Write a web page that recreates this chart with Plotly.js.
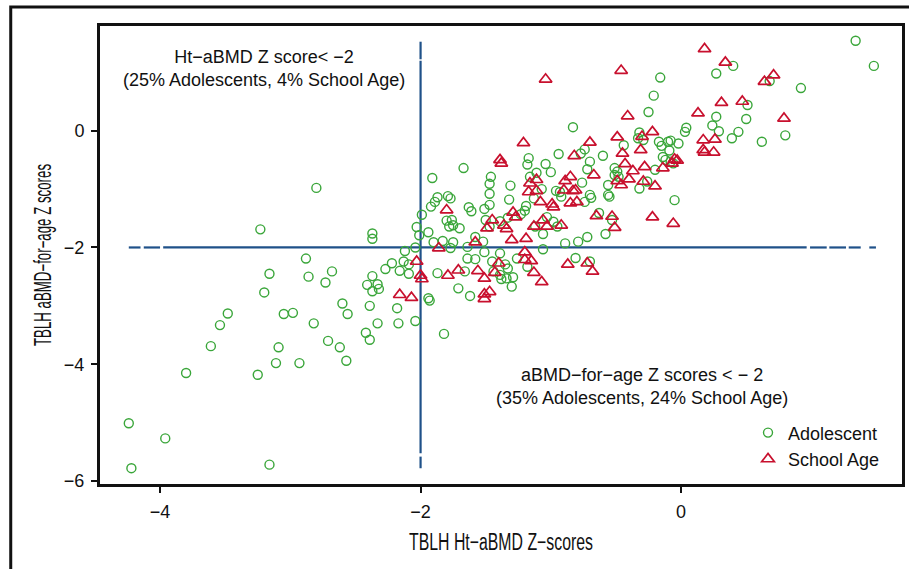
<!DOCTYPE html>
<html>
<head>
<meta charset="utf-8">
<script src="https://cdn.plot.ly/plotly-3.0.1.min.js"></script>
<style>
  html, body { margin: 0; padding: 0; background: #ffffff; }
  #chart { width: 909px; height: 569px; }
</style>
</head>
<body>
<div id="chart"></div>
<script>
// ---- Data ----
const adolescentX = [
  -4.24,-3.96,-4.22,-3.80,-3.61,-3.54,-3.48,-3.20,-3.23,-2.80,
  -3.25,-3.16,-3.11,-3.09,-3.05,-2.98,-2.93,-2.82,-2.88,-3.16,
  -2.86,-2.68,-2.73,-2.71,-2.62,-2.57,-2.60,-2.56,-2.42,-2.39,
  -2.33,-2.39,-2.41,-2.33,-2.37,-2.32,-2.37,-2.37,-2.37,-2.27,
  -2.22,-2.18,-2.17,-2.16,-2.13,-2.09,-2.09,-2.12,-2.04,-2.04,
  -2.03,-1.99,-2.01,-1.94,-1.94,-1.93,-1.91,-1.92,-1.89,-1.87,
  -1.90,-1.83,-1.82,-1.79,-1.77,-1.80,-1.76,-1.75,-1.70,-1.78,
  -1.75,-1.77,-1.87,-1.71,-1.67,-1.63,-1.61,-1.64,-1.58,-1.52,
  -1.64,-1.58,-1.66,-1.62,-1.51,-1.47,-1.50,-1.47,-1.51,-1.46,
  -1.47,-1.47,-1.45,-1.39,-1.44,-1.39,-1.34,-1.29,-1.38,-1.30,
  -1.39,-1.33,-1.35,-1.33,-1.31,-1.32,-1.26,-1.23,-1.20,-1.19,
  -1.18,-1.17,-1.16,-1.11,-1.13,-1.12,-1.18,-1.07,-1.06,-1.06,
  -1.04,-1.03,-1.00,-0.98,-0.95,-0.96,-0.93,-0.94,-0.92,-0.89,
  -0.83,-0.81,-0.79,-0.77,-0.74,-0.72,-0.70,-0.76,-0.70,-0.69,
  -0.74,-0.63,-0.72,-0.70,-0.60,-0.58,-0.56,-0.56,-0.55,-0.53,
  -0.51,-0.49,-0.51,-0.48,-0.44,-0.32,-0.33,-0.29,-0.32,-0.26,
  -0.25,-0.21,-0.16,-0.20,-0.17,-0.15,-0.10,-0.08,-0.02,-0.09,
  -0.14,-0.12,-0.08,-0.06,-0.05,0.03,0.04,0.24,0.27,0.29,
  0.27,0.40,0.39,0.44,0.50,0.51,0.62,0.68,0.80,0.92,
  1.34,1.48
];
const adolescentY = [
  -5.01,-5.27,-5.78,-4.15,-3.69,-3.33,-3.13,-2.77,-1.69,-0.98,
  -4.18,-5.72,-3.98,-3.71,-3.14,-3.12,-3.98,-3.30,-2.19,-2.45,
  -2.50,-2.41,-2.60,-3.60,-3.71,-3.94,-2.96,-3.14,-3.46,-3.58,
  -3.30,-3.00,-2.64,-2.63,-2.75,-2.71,-1.76,-1.85,-2.49,-2.37,
  -2.27,-3.04,-3.30,-2.40,-2.24,-2.29,-2.45,-2.06,-2.00,-3.26,
  -1.65,-1.44,-1.79,-1.74,-2.87,-2.91,-0.81,-1.30,-1.22,-1.14,
  -1.91,-1.89,-3.48,-1.12,-1.16,-1.54,-1.53,-1.62,-1.67,-1.64,
  -1.91,-2.01,-2.44,-2.70,-0.64,-1.31,-1.38,-1.99,-1.82,-1.90,
  -2.19,-2.20,-2.41,-2.83,-1.34,-1.27,-1.53,-1.64,-2.08,-0.79,
  -0.91,-1.08,-2.24,-2.10,-2.41,-2.47,-2.53,-2.51,-2.54,-2.67,
  -1.55,-1.49,-2.29,-2.36,-0.94,-1.18,-2.19,-1.43,-1.37,-1.29,
  -0.58,-0.47,-0.79,-0.72,-1.16,-1.64,-2.33,-1.00,-1.77,-2.03,
  -0.57,-1.48,-0.71,-1.56,-1.64,-1.03,-1.05,-0.40,-1.13,-1.93,
  0.06,-2.18,-1.90,-0.39,-0.32,-0.66,-0.53,-0.89,-1.10,-1.15,
  -1.22,-1.41,-1.82,-2.24,-0.43,-1.77,-0.93,-1.10,-1.13,-1.53,
  -0.64,-0.70,-0.76,-0.79,-0.25,-0.03,-0.13,-0.16,-0.99,-0.87,
  0.32,0.60,0.91,-0.67,-0.19,-0.26,-0.19,-0.17,-0.22,-0.34,
  -0.45,-0.50,-0.53,-0.56,-1.19,-0.02,0.05,0.09,0.24,-0.01,
  0.98,1.11,-0.13,-0.02,0.20,0.44,-0.19,0.85,-0.08,0.73,
  1.54,1.11
];
const schoolAgeX = [
  -2.16,-2.07,-2.03,-2.00,-1.99,-1.86,-1.80,-1.79,-1.71,-1.56,
  -1.58,-1.51,-1.51,-1.47,-1.51,-1.45,-1.49,-1.36,-1.34,-1.43,
  -1.40,-1.39,-1.38,-1.30,-1.29,-1.27,-1.21,-1.20,-1.20,-1.15,
  -1.19,-1.16,-1.11,-1.17,-1.11,-1.13,-1.06,-1.03,-1.13,-1.08,
  -0.99,-0.98,-1.07,-1.04,-0.92,-0.89,-0.85,-0.90,-0.83,-0.81,
  -0.87,-0.85,-0.82,-0.80,-0.72,-0.68,-0.70,-0.67,-0.65,-0.53,
  -0.51,-0.49,-0.49,-0.46,-0.40,-0.46,-0.45,-0.43,-0.41,-0.37,
  -0.30,-0.31,-0.29,-0.28,-0.22,-0.22,-0.20,-0.14,-0.07,-0.05,
  -0.03,-0.06,0.13,0.17,0.26,0.17,0.18,0.25,0.18,0.31,
  0.34,0.47,0.64,0.71,0.79
];
const schoolAgeY = [
  -2.81,-2.86,-2.24,-2.48,-2.54,-2.01,-1.36,-2.48,-2.39,-2.40,
  -1.91,-2.53,-2.80,-2.76,-2.88,-1.53,-1.67,-1.62,-1.68,-2.43,
  -2.27,-0.50,-0.56,-1.87,-1.40,-1.48,-0.21,-2.08,-2.21,-2.23,
  -1.85,-0.90,-0.84,-1.05,-1.03,-1.64,-1.53,-1.64,-2.43,-1.22,
  -1.26,-1.31,-2.59,0.88,-1.62,-0.86,-0.79,-1.02,-1.03,-1.02,
  -2.29,-1.24,-0.43,-1.22,-2.27,-2.41,-0.20,-0.76,-1.46,-1.47,
  -1.66,-0.11,-0.86,-0.93,-0.83,1.03,-0.39,-0.57,0.25,-0.69,
  -0.10,-0.33,-0.87,-0.62,-0.02,-1.48,-0.95,-0.64,-0.56,-0.49,
  -0.51,-1.59,0.30,-0.16,-0.15,-0.33,-0.37,-0.37,1.40,0.48,
  1.17,0.50,0.84,0.95,0.21
];
const groupNames = ["Adolescent", "School Age"];
const xTickValues = [-4, -2, 0];
const yTickValues = [-6, -4, -2, 0];
const cutoff = -2;
// drawn pieces of the two cut-off lines (the reference shows short dashes at their ends)
const horizontalPieces = [[-4.24,-4.15],[-4.125,-4.00],[-3.976,0.964],[0.99,1.118],[1.138,1.266],[1.287,1.379],[1.445,1.496]];
const verticalPieces = [[1.524,1.223],[1.199,-5.524],[-5.582,-5.781]];
const noteTopLeft = ["Ht\u2212aBMD Z score< \u22122", "(25% Adolescents, 4% School Age)"];
const noteBottomRight = ["aBMD\u2212for\u2212age Z scores < \u2212 2", "(35% Adolescents, 24% School Age)"];
const xTitle = "TBLH Ht\u2212aBMD Z\u2212scores";
const yTitle = "TBLH aBMD\u2212for\u2212age Z scores";

// ---- Styles ----
const FONT = "Liberation Sans, Arial, Helvetica, sans-serif";
const GREEN = "#3aa63a";
const RED = "#c8102e";
const LINEBLUE = "#1f5189";

const traces = [
  {
    type: "scatter", mode: "markers", name: groupNames[0],
    x: adolescentX, y: adolescentY,
    marker: { symbol: "circle-open", size: 9, color: GREEN, line: { color: GREEN, width: 1.4 } },
    cliponaxis: false
  },
  {
    type: "scatter", mode: "markers", name: groupNames[1],
    x: schoolAgeX, y: schoolAgeY,
    marker: { symbol: "triangle-up-open", size: 11, color: RED, line: { color: RED, width: 1.7 } },
    cliponaxis: false
  }
];

const shapes = [];
horizontalPieces.forEach(p => shapes.push({
  type: "line", xref: "x", yref: "y", x0: p[0], x1: p[1], y0: cutoff, y1: cutoff,
  line: { color: LINEBLUE, width: 2.2 }, layer: "below"
}));
verticalPieces.forEach(p => shapes.push({
  type: "line", xref: "x", yref: "y", x0: cutoff, x1: cutoff, y0: p[0], y1: p[1],
  line: { color: LINEBLUE, width: 2.2 }, layer: "below"
}));
// outer figure frame
shapes.push({
  type: "rect", xref: "paper", yref: "paper", x0: -0.1113, x1: 1.3, y0: -0.5, y1: 1.0415,
  line: { color: "#111111", width: 3 }, fillcolor: "rgba(0,0,0,0)", layer: "above"
});

const layout = {
  width: 909, height: 569,
  margin: { l: 100, r: 7, t: 26, b: 85 },
  paper_bgcolor: "#ffffff", plot_bgcolor: "#ffffff",
  font: { family: FONT, size: 18, color: "#111111" },
  showlegend: true,
  legend: {
    x: 0.808, xanchor: "left", y: 0.152, yanchor: "top",
    bgcolor: "rgba(255,255,255,0)", borderwidth: 0,
    font: { family: FONT, size: 18, color: "#111111" },
    itemwidth: 30
  },
  xaxis: {
    range: [-4.461, 1.696],
    tickvals: xTickValues, ticktext: xTickValues.map(v => v < 0 ? "\u2212" + Math.abs(v) : String(v)),
    ticks: "outside", ticklen: 6, tickwidth: 2, tickcolor: "#111111",
    ticklabelstandoff: 3,
    showgrid: false, zeroline: false,
    showline: true, mirror: true, linewidth: 3, linecolor: "#111111",
    title: { text: xTitle, font: { family: FONT, size: 23, color: "#111111" }, standoff: 14 }
  },
  yaxis: {
    range: [-6.051, 1.793],
    tickvals: yTickValues, ticktext: yTickValues.map(v => v < 0 ? "\u2212" + Math.abs(v) : String(v)),
    ticks: "outside", ticklen: 6, tickwidth: 2, tickcolor: "#111111",
    ticklabelstandoff: 3,
    showgrid: false, zeroline: false,
    showline: true, mirror: true, linewidth: 3, linecolor: "#111111",
    title: { text: yTitle, font: { family: FONT, size: 23, color: "#111111" }, standoff: 6 }
  },
  shapes: shapes,
  annotations: [
    {
      xref: "x", yref: "y", x: -3.199, y: 1.065, showarrow: false,
      text: noteTopLeft.join("<br>"), align: "center",
      font: { family: FONT, size: 18, color: "#111111" }
    },
    {
      xref: "x", yref: "y", x: -0.303, y: -4.389, showarrow: false,
      text: noteBottomRight.join("<br>"), align: "center",
      font: { family: FONT, size: 18, color: "#111111" }
    }
  ]
};

Plotly.newPlot("chart", traces, layout, { staticPlot: true, displayModeBar: false }).then(function (gd) {
  const xt = gd.querySelector(".xtitle");
  if (xt) { xt.setAttribute("textLength", "184"); xt.setAttribute("lengthAdjust", "spacingAndGlyphs"); }
  const yt = gd.querySelector(".ytitle");
  if (yt) { yt.setAttribute("textLength", "182"); yt.setAttribute("lengthAdjust", "spacingAndGlyphs"); }
});
</script>
</body>
</html>
